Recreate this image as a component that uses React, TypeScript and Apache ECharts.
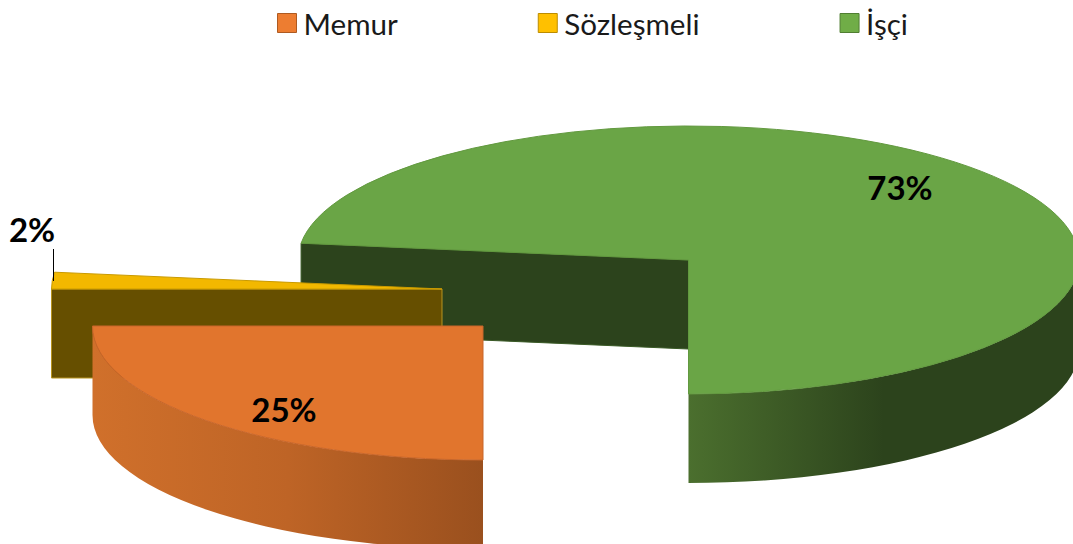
import React, { useEffect, useRef } from "react";
import * as echarts from "echarts";

const categories = ["Memur", "Sözleşmeli", "İşçi"];
const shares = [25, 2, 73];
const percentLabels = ["25%", "2%", "73%"];

const legendColors = ["#ED7D31", "#FFC000", "#70AD47"];
const legendBorders = ["#AE5A21", "#BC8C00", "#507E32"];
const topColors = ["#E1752D", "#F2B800", "#6AA546"];
const topStrokes = ["#C8662A", "#C99A00", "#62993F"];
const wallColors = ["#8F4B1C", "#664F00", "#2C431C"];
const wallStrokes = ["#8F4B1C", "#B8941E", "#3A5A26"];
const sideStops: [number, string][][] = [
  [[0, "#D0702B"], [0.5, "#BE6426"], [1, "#9A501E"]],
  [[0, "#664F00"], [1, "#664F00"]],
  [[0, "#4B6F2E"], [0.5, "#2C431C"], [1, "#2C431C"]],
];
const centersX = [483, 442, 688.5];
const centersY = [326, 289, 260];
const labelX = [284, 32, 900];
const labelY = [409, 229, 187];

const RX = 390.5;
const RY = 134;
const DEPTH = 89;
const FONT = "Lato, Carlito, sans-serif";

const total = shares.reduce((a, b) => a + b, 0);

function point(i: number, deg: number, dy = 0): [number, number] {
  const t = (deg * Math.PI) / 180;
  return [centersX[i] - RX * Math.sin(t), centersY[i] + RY * Math.cos(t) + dy];
}

function arc(to: [number, number], large: boolean, clockwise: boolean) {
  return `A ${RX} ${RY} 0 ${large ? 1 : 0} ${clockwise ? 1 : 0} ${to[0]} ${to[1]}`;
}

function renderSlice(i: number) {
  return () => {
    const before = shares.slice(0, i).reduce((a, b) => a + b, 0);
    const start = (before / total) * 360;
    const end = ((before + shares[i]) / total) * 360;
    const cx = centersX[i];
    const cy = centersY[i];
    const children: any[] = [];

    if (start > 0 && start < 180) {
      const p = point(i, start);
      children.push({
        type: "path",
        shape: {
          pathData: `M ${cx} ${cy} L ${p[0]} ${p[1]} L ${p[0]} ${p[1] + DEPTH} L ${cx} ${cy + DEPTH} Z`,
        },
        style: { fill: wallColors[i], stroke: wallStrokes[i], lineWidth: 1 },
      });
    }

    const ranges: [number, number][] = [[0, 90], [270, 360]];
    ranges.forEach(([a, b]) => {
      const s = Math.max(a, start);
      const e = Math.min(b, end);
      if (e <= s) return;
      const p0 = point(i, s);
      const p1 = point(i, e);
      const q1 = point(i, e, DEPTH);
      const q0 = point(i, s, DEPTH);
      children.push({
        type: "path",
        shape: {
          pathData: `M ${p0[0]} ${p0[1]} ${arc(p1, false, true)} L ${q1[0]} ${q1[1]} ${arc(q0, false, false)} Z`,
        },
        style: {
          fill: {
            type: "linear",
            x: a === 0 ? cx - RX : cx,
            y: 0,
            x2: a === 0 ? cx : cx + RX,
            y2: 0,
            global: true,
            colorStops: sideStops[i].map(([offset, color]) => ({ offset, color })),
          },
        },
      });
    });

    const p0 = point(i, start);
    const p1 = point(i, end);
    children.push({
      type: "path",
      shape: {
        pathData: `M ${cx} ${cy} L ${p0[0]} ${p0[1]} ${arc(p1, end - start > 180, true)} Z`,
      },
      style: { fill: topColors[i], stroke: topStrokes[i], lineWidth: 1 },
    });

    if (labelX[i] < 60) {
      children.push({
        type: "line",
        shape: { x1: 53.5, y1: 249, x2: 53.5, y2: 281 },
        style: { stroke: "#000000", lineWidth: 1 },
      });
    }

    children.push({
      type: "text",
      x: labelX[i],
      y: labelY[i],
      style: {
        text: percentLabels[i],
        fill: "#000000",
        fontFamily: FONT,
        fontWeight: "bold",
        fontSize: 33,
        align: "center",
        verticalAlign: "middle",
      },
    });

    return { type: "group", children };
  };
}

export default function App() {
  const ref = useRef<HTMLDivElement>(null);
  useEffect(() => {
    document.body.style.margin = "0";
    const chart = echarts.init(ref.current!, null, { renderer: "svg" });
    const order = [2, 1, 0];
    chart.setOption({
      animation: false,
      backgroundColor: "#FFFFFF",
      legend: {
        left: 277,
        top: 8,
        padding: 0,
        itemWidth: 19,
        itemHeight: 19,
        itemGap: 140,
        icon: "rect",
        selectedMode: false,
        textStyle: {
          fontFamily: FONT,
          fontSize: 29.6,
          color: "#1A1A1A",
          padding: [0, 0, 0, 2],
        },
        data: categories.map((name, i) => ({
          name,
          itemStyle: {
            color: legendColors[i],
            borderColor: legendBorders[i],
            borderWidth: 1,
          },
        })),
      },
      series: order.map((i) => ({
        type: "custom",
        name: categories[i],
        coordinateSystem: "none",
        silent: true,
        itemStyle: { color: legendColors[i] },
        data: [[shares[i]]],
        renderItem: renderSlice(i),
      })),
    });
    return () => chart.dispose();
  }, []);
  return <div ref={ref} style={{ width: 1073, height: 544, overflow: "hidden" }} />;
}
